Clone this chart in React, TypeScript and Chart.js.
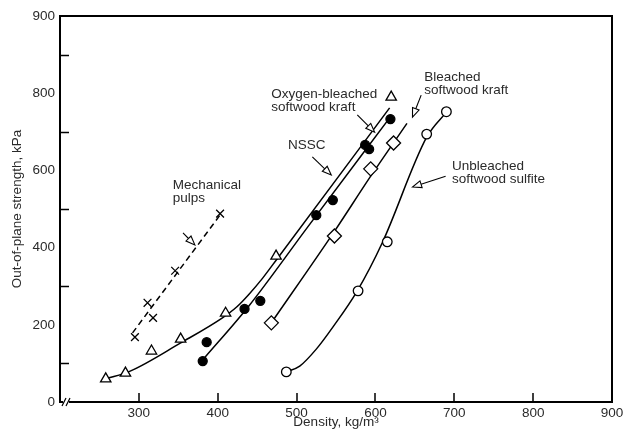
import React, { useEffect, useRef } from 'react';
import { Chart, registerables } from 'chart.js';

Chart.register(...registerables);

const FONT_FAMILY = '"Liberation Sans", Arial, Helvetica, sans-serif';
const TEXT_COLOR = '#2a2a2a';

// ---- Data (density kg/m3, out-of-plane strength kPa) ----
// Mechanical pulps (x markers, dashed fit)
const mechDensity = [295, 311, 318, 346, 403];
const mechStrength = [168, 257, 218, 340, 488];
const mechFitDensity = [292, 405];
const mechFitStrength = [179, 490];

// NSSC (open triangles)
const nsscDensity = [258, 283, 316, 353, 410, 474, 620];
const nsscStrength = [60, 75, 132, 163, 230, 378, 790];
const nsscFitDensity = [258, 289, 353, 406, 424, 440, 457, 475, 618];
const nsscFitStrength = [60, 80, 153, 218, 246, 280, 321, 370, 762];

// Oxygen-bleached softwood kraft (filled circles)
const oxyDensity = [381, 386, 434, 454, 525, 546, 587, 592, 619];
const oxyStrength = [106, 155, 241, 262, 484, 523, 666, 655, 733];
const oxyFitDensity = [381, 440, 514, 618];
const oxyFitStrength = [109, 250, 453, 736];

// Bleached softwood kraft (open diamonds)
const bleachDensity = [468, 548, 594, 623];
const bleachStrength = [205, 430, 604, 671];
const bleachFitDensity = [468, 548, 594, 640];
const bleachFitStrength = [205, 442, 585, 722];

// Unbleached softwood sulfite (open circles)
const sulfDensity = [487, 578, 615, 665, 690];
const sulfStrength = [78, 288, 415, 694, 752];
const sulfFitDensity = [487, 504, 525, 546, 577, 609, 665, 690];
const sulfFitStrength = [78, 93, 137, 194, 288, 414, 686, 751];

// Axis ticks
const xTickValues = [200, 300, 400, 500, 600, 700, 800, 900];
const xTickLabels = ['', '300', '400', '500', '600', '700', '800', '900'];
const xTickMarks = [300, 400, 500, 600, 700, 800];
const yTickValues = [0, 200, 400, 600, 800, 1000];
const yTickLabels = ['0', '200', '400', '600', '800', '900'];
const yTickMarks = [100, 300, 500, 700, 900];

// Annotations: text lines, anchor (density, strength), arrow tail & tip
const annotLabels = [
  ['Mechanical', 'pulps'],
  ['NSSC'],
  ['Oxygen-bleached', 'softwood kraft'],
  ['Bleached', 'softwood kraft'],
  ['Unbleached', 'softwood sulfite'],
];
const annotAnchors = [
  [343, 562],
  [489, 666],
  [468, 798],
  [662, 842],
  [697, 611],
];
const annotArrowTails = [
  [356, 438],
  [520, 635],
  [577, 744],
  [658, 795],
  [689, 585],
];
const annotArrowTips = [
  [371, 407],
  [544, 588],
  [599, 699],
  [647, 738],
  [647, 557],
];

const pts = (xs: number[], ys: number[]) => xs.map((x, i) => ({ x, y: ys[i] }));

const decorPlugin = {
  id: 'decor',
  afterDraw(chart: any) {
    const { ctx, chartArea: a, scales } = chart;
    const xs = scales.x;
    const ys = scales.y;
    ctx.save();
    // frame
    ctx.strokeStyle = '#000';
    ctx.lineWidth = 2;
    ctx.strokeRect(a.left, a.top, a.right - a.left, a.bottom - a.top);
    // inward tick marks
    ctx.lineWidth = 1.5;
    ctx.beginPath();
    for (const v of yTickMarks) {
      const py = Math.round(ys.getPixelForValue(v)) + 0.5;
      ctx.moveTo(a.left, py);
      ctx.lineTo(a.left + 9, py);
    }
    for (const v of xTickMarks) {
      const px = Math.round(xs.getPixelForValue(v));
      ctx.moveTo(px, a.bottom);
      ctx.lineTo(px, a.bottom - 9);
    }
    ctx.stroke();
    // axis break mark
    ctx.fillStyle = '#fff';
    ctx.fillRect(a.left + 3, a.bottom - 2, 6, 4);
    ctx.lineWidth = 1.2;
    ctx.beginPath();
    ctx.moveTo(a.left + 2, a.bottom + 4);
    ctx.lineTo(a.left + 6, a.bottom - 4);
    ctx.moveTo(a.left + 6, a.bottom + 4);
    ctx.lineTo(a.left + 10, a.bottom - 4);
    ctx.stroke();

    // annotations
    ctx.font = `13.5px ${FONT_FAMILY}`;
    ctx.fillStyle = TEXT_COLOR;
    ctx.textBaseline = 'middle';
    ctx.textAlign = 'left';
    annotLabels.forEach((lines, i) => {
      const px = xs.getPixelForValue(annotAnchors[i][0]);
      const py = ys.getPixelForValue(annotAnchors[i][1]);
      lines.forEach((t, j) => ctx.fillText(t, px, py + j * 13));
    });
    ctx.strokeStyle = '#000';
    ctx.lineWidth = 1.1;
    annotArrowTails.forEach((tail, i) => {
      const tx = xs.getPixelForValue(tail[0]);
      const ty = ys.getPixelForValue(tail[1]);
      const hx = xs.getPixelForValue(annotArrowTips[i][0]);
      const hy = ys.getPixelForValue(annotArrowTips[i][1]);
      const ang = Math.atan2(hy - ty, hx - tx);
      const L = 9;
      const W = 3.5;
      const bx = hx - L * Math.cos(ang);
      const by = hy - L * Math.sin(ang);
      ctx.beginPath();
      ctx.moveTo(tx, ty);
      ctx.lineTo(bx, by);
      ctx.stroke();
      ctx.beginPath();
      ctx.moveTo(hx, hy);
      ctx.lineTo(bx + W * Math.sin(ang), by - W * Math.cos(ang));
      ctx.lineTo(bx - W * Math.sin(ang), by + W * Math.cos(ang));
      ctx.closePath();
      ctx.fillStyle = '#fff';
      ctx.fill();
      ctx.stroke();
    });
    ctx.restore();
  },
};

export default function App() {
  const ref = useRef<HTMLCanvasElement | null>(null);

  useEffect(() => {
    if (!ref.current) return;
    const font = { family: FONT_FAMILY, size: 13.5 };
    const markerBase = { showLine: false, order: 0, pointBorderColor: '#000', pointBorderWidth: 1.3 };
    const fitBase = {
      showLine: true,
      order: 1,
      pointRadius: 0,
      borderColor: '#000',
      borderWidth: 1.5,
      cubicInterpolationMode: 'monotone' as const,
    };
    const chart = new Chart(ref.current, {
      type: 'scatter',
      data: {
        datasets: [
          { ...markerBase, label: 'Mechanical pulps', data: pts(mechDensity, mechStrength), pointStyle: 'crossRot', pointRadius: 5.5, pointBackgroundColor: '#000' },
          { ...markerBase, label: 'NSSC', data: pts(nsscDensity, nsscStrength), pointStyle: 'triangle', pointRadius: 6, pointBackgroundColor: '#fff' },
          { ...markerBase, label: 'Oxygen-bleached softwood kraft', data: pts(oxyDensity, oxyStrength), pointStyle: 'circle', pointRadius: 4.5, pointBackgroundColor: '#000' },
          { ...markerBase, label: 'Bleached softwood kraft', data: pts(bleachDensity, bleachStrength), pointStyle: 'rectRot', pointRadius: 7, pointBackgroundColor: '#fff' },
          { ...markerBase, label: 'Unbleached softwood sulfite', data: pts(sulfDensity, sulfStrength), pointStyle: 'circle', pointRadius: 4.8, pointBackgroundColor: '#fff' },
          { ...fitBase, label: 'Mechanical fit', data: pts(mechFitDensity, mechFitStrength), borderDash: [6, 4], cubicInterpolationMode: 'default' as const },
          { ...fitBase, label: 'NSSC fit', data: pts(nsscFitDensity, nsscFitStrength) },
          { ...fitBase, label: 'Oxygen fit', data: pts(oxyFitDensity, oxyFitStrength) },
          { ...fitBase, label: 'Bleached fit', data: pts(bleachFitDensity, bleachFitStrength) },
          { ...fitBase, label: 'Sulfite fit', data: pts(sulfFitDensity, sulfFitStrength) },
        ] as any,
      },
      options: {
        animation: false,
        responsive: false,
        devicePixelRatio: 1,
        layout: { padding: { top: 16, right: 11, left: 0, bottom: 0 } },
        plugins: { legend: { display: false }, tooltip: { enabled: false } },
        scales: {
          x: {
            type: 'linear',
            min: 200,
            max: 900,
            afterBuildTicks: (s: any) => {
              s.ticks = xTickValues.map((v) => ({ value: v }));
            },
            afterFit: (s: any) => {
              s.height = 39;
              s.paddingLeft = 0;
              s.paddingRight = 0;
            },
            ticks: {
              autoSkip: false,
              maxRotation: 0,
              padding: 3,
              font,
              color: TEXT_COLOR,
              callback: (v: any) => xTickLabels[xTickValues.indexOf(Number(v))] ?? '',
            },
            grid: { display: false, drawTicks: false },
            border: { display: false },
            title: { display: true, text: 'Density, kg/m³', font, color: TEXT_COLOR, padding: { top: 0, bottom: 11 } },
          },
          y: {
            type: 'linear',
            min: 0,
            max: 1000,
            afterBuildTicks: (s: any) => {
              s.ticks = yTickValues.map((v) => ({ value: v }));
            },
            afterFit: (s: any) => {
              s.width = 60;
              s.paddingTop = 0;
              s.paddingBottom = 0;
            },
            ticks: {
              autoSkip: false,
              padding: 5,
              font,
              color: TEXT_COLOR,
              callback: (v: any) => yTickLabels[yTickValues.indexOf(Number(v))] ?? '',
            },
            grid: { display: false, drawTicks: false },
            border: { display: false },
            title: { display: true, text: 'Out-of-plane strength, kPa', font, color: TEXT_COLOR, padding: { top: 9, bottom: 0 } },
          },
        },
      } as any,
      plugins: [decorPlugin],
    });
    return () => chart.destroy();
  }, []);

  return (
    <div style={{ position: 'absolute', left: 0, top: 0, width: 623, height: 441, background: '#fff' }}>
      <canvas ref={ref} width={623} height={441} style={{ display: 'block' }} />
    </div>
  );
}
